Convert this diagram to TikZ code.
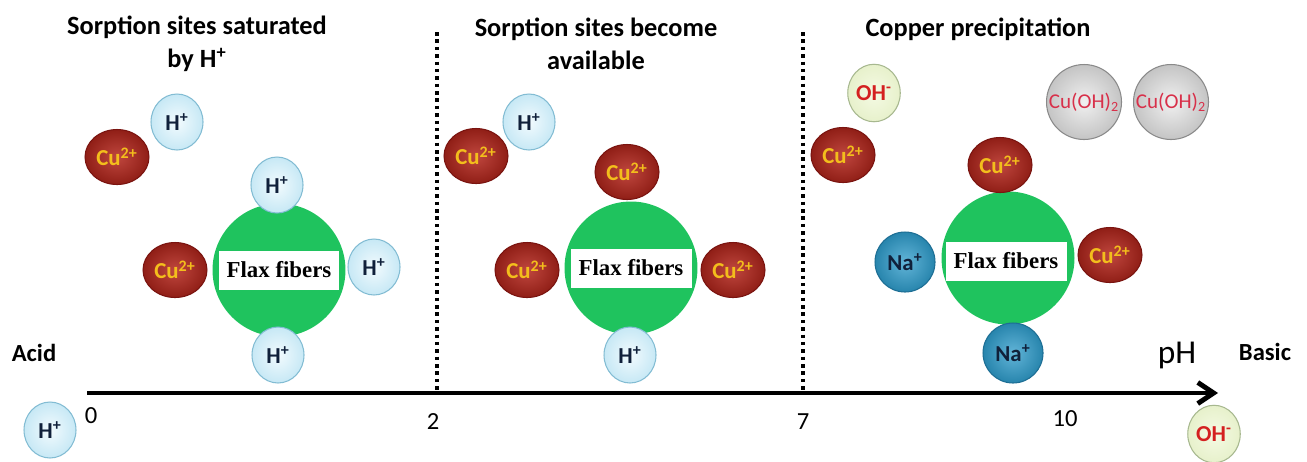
\documentclass[tikz,border=0pt]{standalone}
\usepackage{fontspec}
\setmainfont{Carlito}
\newfontfamily\flaxfont{Liberation Serif}
\usetikzlibrary{arrows.meta,shapes.geometric}
\definecolor{cured}{HTML}{B4261C}
\definecolor{cuedge}{HTML}{7A1410}
\definecolor{cutext}{HTML}{F3BE1C}
\definecolor{hfill}{HTML}{D3F0FB}
\definecolor{hedge}{HTML}{82BCD3}
\definecolor{htext}{HTML}{10203A}
\definecolor{nafill}{HTML}{2E9CCB}
\definecolor{naedge}{HTML}{1D6E94}
\definecolor{ohfill}{HTML}{EEF7D2}
\definecolor{ohedge}{HTML}{A7B88F}
\definecolor{ohtext}{HTML}{D42020}
\definecolor{cuohfill}{HTML}{DADADA}
\definecolor{cuohedge}{HTML}{8A8A8A}
\definecolor{cuohtext}{HTML}{D8304A}
\definecolor{flaxgreen}{HTML}{1FC35E}
\newcommand{\ionsup}[1]{\textsuperscript{#1}}
\newcommand{\nowidth}[1]{\makebox[0pt]{#1}}

\tikzset{
  ion/.style={ellipse,inner sep=0pt,line width=0.6pt,font=\fontsize{13}{15}\selectfont\bfseries},
  hion/.style={ion,draw=hedge,inner color=white!70!hfill,outer color=hfill!85!hedge,text=htext,
    minimum width=1.04cm,minimum height=1.12cm},
  cuion/.style={ion,draw=cuedge,inner color=cured!85!white,outer color=cured!80!black,text=cutext,
    minimum width=1.28cm,minimum height=1.1cm},
  naion/.style={ion,draw=naedge,inner color=nafill!75!white,outer color=nafill!85!black,text=htext,
    minimum width=1.2cm,minimum height=1.2cm},
  ohion/.style={ion,draw=ohedge,inner color=ohfill!60!white,outer color=ohfill!90!ohedge,text=ohtext,
    minimum width=1.05cm,minimum height=1.15cm},
  precip/.style={ion,draw=cuohedge,inner color=cuohfill!40!white,outer color=cuohfill!90!black,text=cuohtext,
    font=\fontsize{12}{13}\selectfont,minimum size=1.5cm},
  fiber/.style={circle,fill=flaxgreen,minimum size=2.66cm,inner sep=0pt},
  flaxlabel/.style={rectangle,fill=white,minimum width=2.42cm,minimum height=0.78cm,inner sep=0pt,
    font=\flaxfont\fontsize{13}{15}\selectfont\bfseries},
  title/.style={align=center,font=\fontsize{15}{19}\selectfont\bfseries},
  tick/.style={font=\fontsize{14}{16}\selectfont},
  sep/.style={line width=2pt,dash pattern=on 2pt off 2.2pt}
}

\begin{document}
\begin{tikzpicture}[x=0.02cm,y=-0.02cm]
  \useasboundingbox (0,0) rectangle (1307,461);
  % pH axis and zone limits
  \coordinate (ax0) at (87,393);
  \coordinate (ax1) at (1218,393);
  \coordinate (s1top) at (437,32);
  \coordinate (s1bot) at (437,393);
  \coordinate (s2top) at (803,32);
  \coordinate (s2bot) at (803,393);
  \draw[sep] (s1top) -- (s1bot);
  \draw[sep] (s2top) -- (s2bot);
  \draw[line width=2.8pt,-{Straight Barb[length=9pt,width=12pt]}] (ax0) -- (ax1);
  \node[tick] (p0) at (91,416) {0};
  \node[tick] (p2) at (433,422) {2};
  \node[tick] (p7) at (803,422) {7};
  \node[tick] (p10) at (1065,419) {10};
  \node[font=\fontsize{19}{21}\selectfont] (ph) at (1177,355) {pH};
  \node[font=\fontsize{14}{16}\selectfont\bfseries] (acid) at (34,353) {Acid};
  \node[font=\fontsize{14}{16}\selectfont\bfseries] (basic) at (1265,352) {Basic};
  \node[hion] (hfree) at (50,430) {H\ionsup{+}};
  \node[ohion] (ohfree) at (1214,434) {OH\ionsup{-}};

  % zone 1: pH 0-2
  \node[title] (t1) at (197,44) {Sorption sites saturated\\by H\ionsup{+}};
  \node[hion] (h1a) at (177,122) {H\ionsup{+}};
  \node[cuion] (cu1a) at (117,157) {Cu\ionsup{2+}};
  \node[fiber] (f1) at (279,270) {};
  \node[flaxlabel] (l1) at (f1) {Flax fibers};
  \node[hion] (h1t) at (277,185) {H\ionsup{+}};
  \node[cuion] (cu1l) at (175,270) {Cu\ionsup{2+}};
  \node[hion] (h1r) at (374,267) {H\ionsup{+}};
  \node[hion] (h1b) at (278,355) {H\ionsup{+}};

  % zone 2: pH 2-7
  \node[title] (t2) at (596,44) {Sorption sites become\\available};
  \node[hion] (h2a) at (529,122) {H\ionsup{+}};
  \node[cuion] (cu2a) at (476,156) {Cu\ionsup{2+}};
  \node[fiber] (f2) at (631,268) {};
  \node[flaxlabel] (l2) at (f2) {Flax fibers};
  \node[cuion] (cu2t) at (627,172) {Cu\ionsup{2+}};
  \node[cuion] (cu2l) at (527,270) {Cu\ionsup{2+}};
  \node[cuion] (cu2r) at (733,270) {Cu\ionsup{2+}};
  \node[hion] (h2b) at (630,355) {H\ionsup{+}};

  % zone 3: pH above 7
  \node[title] (t3) at (978,29) {Copper precipitation};
  \node[ohion] (oh3) at (874,93) {OH\ionsup{-}};
  \node[cuion] (cu3a) at (843,155) {Cu\ionsup{2+}};
  \node[precip] (cuoh1) at (1084,102) {\nowidth{Cu(OH)\textsubscript{2}}};
  \node[precip] (cuoh2) at (1171,102) {\nowidth{Cu(OH)\textsubscript{2}}};
  \node[fiber] (f3) at (1008,258) {};
  \node[flaxlabel] (l3) at (1006,261) {Flax fibers};
  \node[cuion] (cu3t) at (1000,165) {Cu\ionsup{2+}};
  \node[naion] (na3l) at (905,262) {Na\ionsup{+}};
  \node[cuion] (cu3r) at (1110,255) {Cu\ionsup{2+}};
  \node[naion] (na3b) at (1013,353) {Na\ionsup{+}};
\end{tikzpicture}
\end{document}
